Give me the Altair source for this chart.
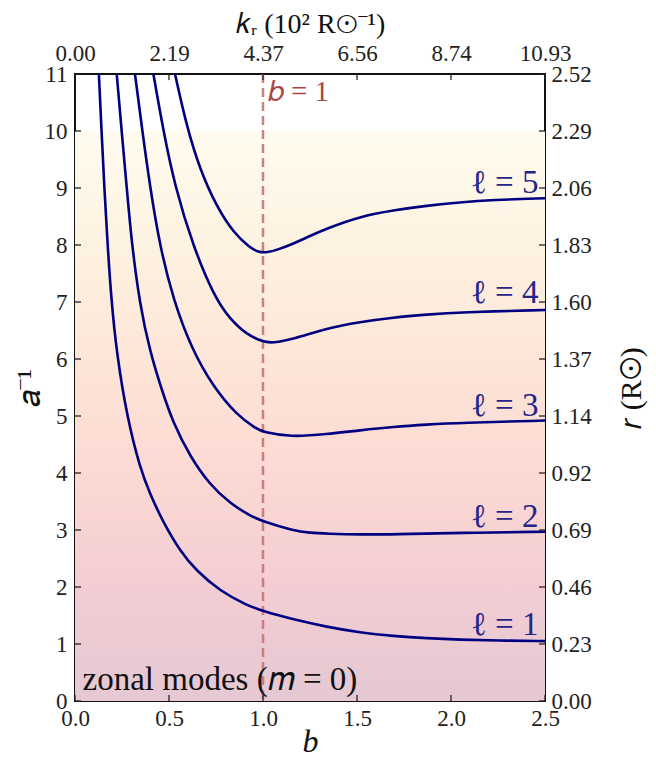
import json
import altair as alt
import pandas as pd

# ---- data ----
ells = [1, 2, 3, 4, 5]
b_l1 = [0.127, 0.142, 0.156, 0.172, 0.191, 0.222, 0.28, 0.346, 0.399, 0.47, 0.559, 0.647, 0.771, 0.913, 1.0, 1.161, 1.339, 1.516, 1.693, 1.871, 2.048, 2.25, 2.5]
v_l1 = [11.0, 9.94, 9.01, 8.09, 7.12, 6.08, 4.93, 4.09, 3.63, 3.13, 2.63, 2.28, 1.93, 1.68, 1.575, 1.43, 1.30, 1.20, 1.14, 1.10, 1.075, 1.06, 1.05]
b_l2 = [0.222, 0.248, 0.275, 0.301, 0.345, 0.399, 0.461, 0.523, 0.612, 0.718, 0.824, 0.931, 1.0, 1.161, 1.25, 1.339, 1.516, 1.693, 2.048, 2.5]
v_l2 = [11.0, 10.0, 9.02, 8.05, 6.95, 6.13, 5.46, 4.87, 4.29, 3.79, 3.47, 3.25, 3.15, 2.99, 2.95, 2.935, 2.92, 2.925, 2.95, 2.97]
b_l3 = [0.319, 0.355, 0.399, 0.452, 0.523, 0.62, 0.736, 0.86, 0.966, 1.0, 1.144, 1.339, 1.516, 1.693, 1.871, 2.048, 2.5]
v_l3 = [11.0, 10.08, 9.02, 7.97, 7.04, 6.18, 5.51, 5.02, 4.77, 4.72, 4.63, 4.68, 4.75, 4.81, 4.85, 4.88, 4.92]
b_l4 = [0.417, 0.47, 0.532, 0.629, 0.74, 0.824, 0.913, 1.0, 1.05, 1.161, 1.339, 1.516, 1.693, 1.871, 2.048, 2.5]
v_l4 = [11.0, 10.0, 9.02, 7.97, 7.10, 6.70, 6.43, 6.30, 6.28, 6.35, 6.54, 6.65, 6.73, 6.78, 6.82, 6.86]
b_l5 = [0.532, 0.594, 0.665, 0.754, 0.842, 0.931, 0.975, 1.02, 1.08, 1.16, 1.25, 1.339, 1.516, 1.693, 1.871, 2.048, 2.22, 2.5]
v_l5 = [11.0, 10.08, 9.32, 8.67, 8.22, 7.95, 7.875, 7.865, 7.92, 8.02, 8.16, 8.29, 8.5, 8.61, 8.69, 8.75, 8.79, 8.82]

label_texts = ["ℓ = 1", "ℓ = 2", "ℓ = 3", "ℓ = 4", "ℓ = 5"]
label_b = [2.465] * 5
label_y = [1.33, 3.23, 5.18, 7.16, 9.09]

x_ticks = [0.0, 0.5, 1.0, 1.5, 2.0, 2.5]
y_ticks = list(range(0, 12))
k_labels = ["0.00", "2.19", "4.37", "6.56", "8.74", "10.93"]
r_labels = ["0.00", "0.23", "0.46", "0.69", "0.92", "1.14", "1.37", "1.60", "1.83", "2.06", "2.29", "2.52"]

b_marker = 1.0
bg_b = [0.0, 2.5]
bg_y = [0.0, 10.0]

W, H = 470, 627
SERIF = "Liberation Serif"
NAVY = "#000080"

curves = []
for ell, bs, vs in zip(ells, [b_l1, b_l2, b_l3, b_l4, b_l5], [v_l1, v_l2, v_l3, v_l4, v_l5]):
    for b, v in zip(bs, vs):
        curves.append({"ell": ell, "b": b, "v": v})
curves = pd.DataFrame(curves)

xs = alt.Scale(domain=[0, 2.5], nice=False, zero=False)
ys = alt.Scale(domain=[0, 11], nice=False, zero=False)

bg = alt.Chart(pd.DataFrame({"b0": [bg_b[0]], "b1": [bg_b[1]], "y0": [bg_y[0]], "y1": [bg_y[1]]})).mark_rect(
    color=alt.Gradient(
        gradient="linear", x1=0, x2=0, y1=1, y2=0,
        stops=[
            alt.GradientStop(color="#e5c8d3", offset=0.0),
            alt.GradientStop(color="#f3cdd3", offset=0.2),
            alt.GradientStop(color="#fcd9d3", offset=0.4),
            alt.GradientStop(color="#fde6d7", offset=0.6),
            alt.GradientStop(color="#fdf2e1", offset=0.8),
            alt.GradientStop(color="#fffcef", offset=1.0),
        ],
    )
).encode(
    x=alt.X("b0:Q", scale=xs, axis=alt.Axis(
        orient="bottom", values=x_ticks, format=".1f", title="b",
        titleFontStyle="italic", titleFontSize=32, titleX=W / 2, titleY=40,
        titleBaseline="middle", titleAlign="center",
        labelPadding=6, tickSize=0, domain=False, grid=False, labelFlush=False,
        labelOverlap=False)),
    x2="b1:Q",
    y=alt.Y("y0:Q", scale=ys, axis=alt.Axis(
        orient="left", values=y_ticks, format="d", title="𝑎⁻¹",
        titleFontSize=32, titleX=-46, titleY=H / 2, titleAngle=270,
        titleBaseline="middle", titleAlign="center",
        labelPadding=8, tickSize=0,
        domain=False, grid=False, labelFlush=False, labelOverlap=False)),
    y2="y1:Q",
)

rule_b1 = alt.Chart(pd.DataFrame({"b": [b_marker]})).mark_rule(
    color="#c27575", strokeWidth=2.5, strokeDash=[9, 5], opacity=0.9
).encode(x=alt.X("b:Q", scale=xs, axis=None))

lines = alt.Chart(curves).mark_line(
    color=NAVY, strokeWidth=2.6, interpolate="basis", clip=True
).encode(
    x=alt.X("b:Q", scale=xs, axis=None),
    y=alt.Y("v:Q", scale=ys, axis=None),
    detail="ell:N",
)

labels = alt.Chart(pd.DataFrame({"t": label_texts, "b": label_b, "y": label_y})).mark_text(
    font=SERIF, fontSize=33, color="#24248a", align="right", baseline="middle"
).encode(
    x=alt.X("b:Q", scale=xs, axis=None),
    y=alt.Y("y:Q", scale=ys, axis=None),
    text="t:N",
)

b1_text = alt.Chart(pd.DataFrame({"t": ["𝑏 = 1"], "b": [1.025], "y": [10.68]})).mark_text(
    font=SERIF, fontSize=29, color="#a84848", align="left", baseline="middle"
).encode(
    x=alt.X("b:Q", scale=xs, axis=None),
    y=alt.Y("y:Q", scale=ys, axis=None),
    text="t:N",
)

zonal = alt.Chart(pd.DataFrame({"t": ["zonal modes (𝑚 = 0)"], "b": [0.04], "y": [0.36]})).mark_text(
    font=SERIF, fontSize=33, color="#111111", align="left", baseline="middle"
).encode(
    x=alt.X("b:Q", scale=xs, axis=None),
    y=alt.Y("y:Q", scale=ys, axis=None),
    text="t:N",
)

# inward tick marks
xt = pd.DataFrame({"b": x_ticks})
yt = pd.DataFrame({"v": y_ticks})
tick_style = dict(color="#222222", strokeWidth=1.3)
ticks_bottom = alt.Chart(xt).mark_rule(**tick_style).encode(
    x=alt.X("b:Q", scale=xs, axis=None), y=alt.value(H), y2=alt.value(H - 6))
ticks_top = alt.Chart(xt).mark_rule(**tick_style).encode(
    x=alt.X("b:Q", scale=xs, axis=alt.Axis(
        orient="top", values=x_ticks, title="𝑘ᵣ (10² R⊙⁻¹)",
        labelExpr=json.dumps(k_labels) + "[round(datum.value*2)]",
        titleFontSize=28, titleX=W / 2, titleY=-50, titleBaseline="middle",
        titleAlign="center", labelPadding=9, tickSize=0,
        domain=False, grid=False, labelFlush=False, labelOverlap=False)),
    y=alt.value(0), y2=alt.value(6))
ticks_left = alt.Chart(yt).mark_rule(**tick_style).encode(
    y=alt.Y("v:Q", scale=ys, axis=None), x=alt.value(0), x2=alt.value(6))
ticks_right = alt.Chart(yt).mark_rule(**tick_style).encode(
    y=alt.Y("v:Q", scale=ys, axis=alt.Axis(
        orient="right", values=y_ticks, title="𝑟 (R⊙)", titleAngle=270,
        titleX=86, titleY=H / 2, titleBaseline="middle", titleAlign="center",
        labelExpr=json.dumps(r_labels) + "[round(datum.value)]",
        titleFontSize=30, labelPadding=6, tickSize=0,
        domain=False, grid=False, labelFlush=False, labelOverlap=False)),
    x=alt.value(W), x2=alt.value(W - 6))

chart = alt.layer(
    bg, rule_b1, lines, labels, b1_text, zonal,
    ticks_bottom, ticks_top, ticks_left, ticks_right,
).resolve_axis(x="independent", y="independent").properties(
    width=W, height=H,
    autosize=alt.AutoSizeParams(type="none"),
    padding={"left": 67, "top": 66, "right": 103, "bottom": 57},
).configure_view(
    stroke="#111111", strokeWidth=2
).configure_axis(
    labelFont=SERIF, titleFont=SERIF, labelFontSize=23, labelColor="#222222",
    titleColor="#111111", titleFontWeight="normal",
)

chart.save("out.html", embed_options={"renderer": "svg", "actions": False})
